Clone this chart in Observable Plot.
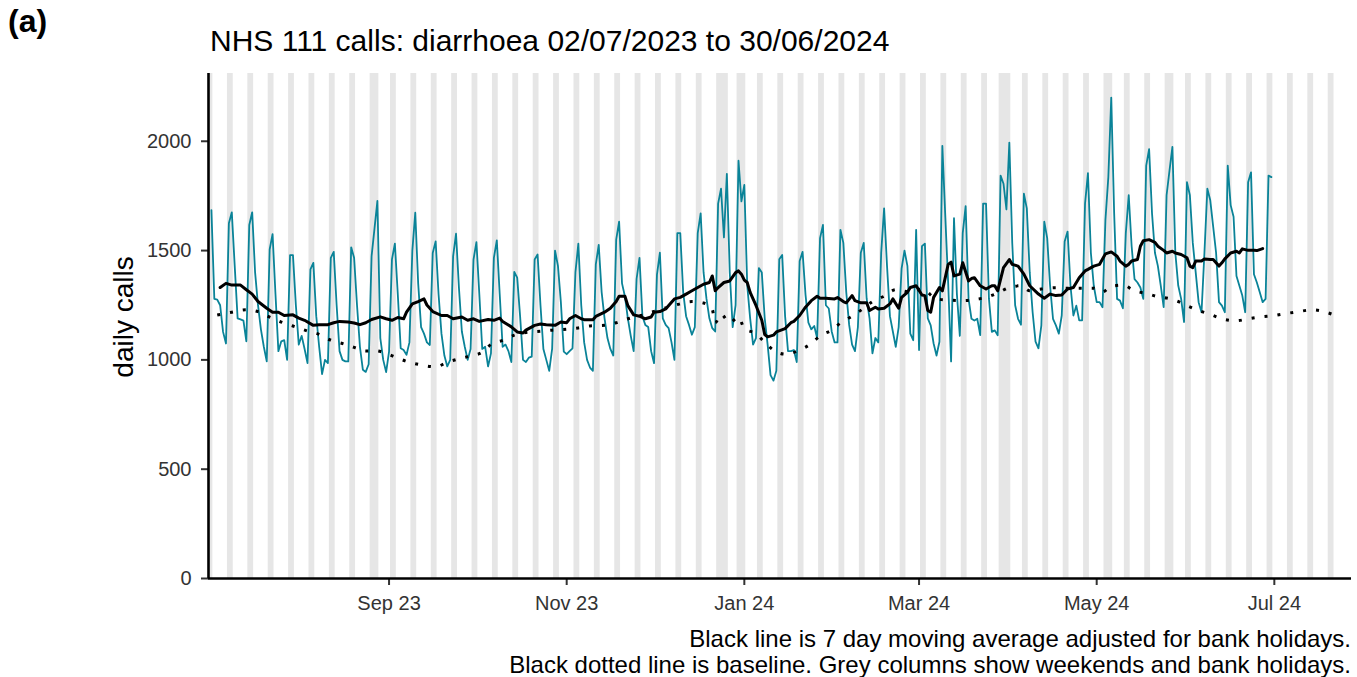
<!DOCTYPE html>
<html>
<head>
<meta charset="utf-8">
<script src="https://cdn.jsdelivr.net/npm/d3@7"></script>
<script src="https://cdn.jsdelivr.net/npm/@observablehq/plot@0.6"></script>
<style>
  html, body { margin: 0; padding: 0; background: #fff; }
  #wrap { position: relative; width: 1357px; height: 677px; overflow: hidden;
          font-family: "Liberation Sans", Arial, sans-serif; color: #000; }
  #tag { position: absolute; left: 8px; top: 3px; font-size: 32px; font-weight: bold; }
  #title { position: absolute; left: 210px; top: 24px; font-size: 30px; white-space: nowrap; }
  #chart { position: absolute; left: 0; top: 0; }
  #caption { position: absolute; right: 6px; top: 626px; font-size: 24px; line-height: 26px;
             text-align: right; white-space: nowrap; }
  #chart svg [aria-label*="tick"] path, #chart svg .tick line { stroke-width: 2px; }
</style>
</head>
<body>
<div id="wrap">
  <div id="tag">(a)</div>
  <div id="title">NHS 111 calls: diarrhoea 02/07/2023 to 30/06/2024</div>
  <div id="chart"></div>
  <div id="caption">Black line is 7 day moving average adjusted for bank holidays.<br>Black dotted line is baseline. Grey columns show weekends and bank holidays.</div>
</div>
<script>
// ---------------- data ----------------
// first day of the daily series (Sunday 2 July 2023); values are daily NHS 111 diarrhoea calls
const seriesStart = "2023-07-02";
const dailyCalls = [
  1685,
  1279, 1276, 1250, 1128, 1075, 1625, 1675,
  1430, 1190, 1185, 1180, 1085, 1617, 1675,
  1400, 1250, 1140, 1060, 993, 1505, 1575,
  1300, 1040, 1085, 1090, 1000, 1479, 1479,
  1250, 1070, 1110, 1050, 985, 1414, 1444,
  1200, 1060, 935, 1000, 985, 1467, 1494,
  1250, 1040, 1000, 993, 993, 1515, 1467,
  1250, 1060, 955, 945, 980, 1474, 1600,
  1727, 1100, 1000, 944, 1038, 1460, 1532,
  1300, 1053, 1045, 1023, 1080, 1500, 1673,
  1350, 1150, 1120, 1080, 1068, 1489, 1542,
  1300, 1120, 1020, 970, 1000, 1474, 1577,
  1330, 1130, 1060, 1000, 1050, 1459, 1539,
  1300, 1050, 1060, 970, 1030, 1467, 1547,
  1300, 1060, 1070, 1040, 990, 1402, 1376,
  1200, 1000, 990, 1010, 1015, 1459, 1482,
  1250, 1050, 1000, 950, 1050, 1500, 1430,
  1264, 1038, 1026, 1040, 1053, 1400, 1532,
  1250, 1080, 1000, 965, 950, 1437, 1526,
  1310, 1190, 1100, 1050, 1020, 1550, 1632,
  1350, 1290, 1190, 1110, 1040, 1370, 1467,
  1200, 1160, 1150, 1040, 985, 1390, 1490,
  1190, 1160, 1145, 1080, 1000, 1580, 1580,
  1310, 1200, 1160, 1115, 1150, 1580, 1670,
  1400, 1280, 1190, 1145, 1130, 1715, 1783,
  1560, 1851, 1400, 1150, 1250, 1911, 1725,
  1800, 1340, 1190, 1070, 1100, 1420, 1400,
  1190, 1070, 930, 905, 950, 1460, 1480,
  1200, 1040, 1040, 1045, 990, 1452, 1494,
  1300, 1170, 1140, 1155, 1100, 1557, 1617,
  1250, 1235, 1130, 1080, 1080, 1595, 1535,
  1310, 1160, 1070, 1040, 1150, 1490, 1535,
  1280, 1190, 1030, 1100, 1080, 1490, 1693,
  1430, 1200, 1130, 1060, 1150, 1417, 1500,
  1430, 1120, 1090, 1595, 1045, 1520, 1532,
  1190, 1158, 1075, 1020, 1083, 1979, 1660,
  1350, 993, 1648, 1300, 1110, 1580, 1703,
  1279, 1188, 1180, 1188, 1113, 1715, 1715,
  1280, 1128, 1135, 1113, 1843, 1806, 1688,
  1994, 1535, 1250, 1188, 1161, 1760, 1693,
  1400, 1218, 1083, 1053, 1158, 1632, 1557,
  1339, 1188, 1158, 1120, 1203, 1542, 1587,
  1339, 1203, 1248, 1181, 1181, 1715, 1854,
  1490, 1339, 1264, 1264, 1241, 1640, 1836,
  2200, 1670, 1279, 1271, 1236, 1580, 1753,
  1520, 1369, 1354, 1331, 1279, 1889, 1964,
  1670, 1490, 1430, 1340, 1241, 1753, 1866,
  1974, 1490, 1340, 1279, 1173, 1813, 1753,
  1535, 1400, 1264, 1218, 1490, 1783, 1730,
  1610, 1490, 1264, 1248, 1218, 1889, 1708,
  1655, 1384, 1339, 1294, 1218, 1813, 1858,
  1392, 1354, 1309, 1264, 1279, 1843, 1836
];

// 7 day moving average (adjusted for bank holidays): [days after seriesStart, calls]
const movingAverage = [
  [3,1331],[5,1350],[7,1342],[10,1342],[12,1321],[14,1301],[16,1267],[19,1236],[21,1218],[23,1218],
  [25,1203],[28,1206],[30,1191],[32,1181],[35,1158],[37,1161],[40,1161],[42,1170],[44,1176],[47,1173],
  [49,1169],[51,1161],[53,1170],[55,1185],[58,1197],[60,1188],[62,1181],[64,1194],[66,1188],[67,1218],
  [69,1256],[71,1267],[73,1279],[74,1251],[76,1221],[79,1203],[81,1203],[83,1188],[86,1196],[88,1181],
  [90,1188],[92,1176],[95,1185],[97,1181],[99,1191],[100,1176],[103,1151],[105,1128],[107,1123],[108,1136],
  [111,1158],[113,1164],[115,1161],[118,1158],[120,1173],[122,1170],[123,1188],[125,1203],[127,1188],[128,1184],
  [131,1184],[132,1199],[135,1218],[137,1236],[139,1267],[140,1291],[142,1291],[143,1248],[145,1206],[147,1200],
  [149,1188],[151,1196],[152,1218],[154,1221],[156,1233],[158,1264],[159,1279],[161,1286],[163,1301],[165,1316],
  [167,1331],[169,1346],[171,1354],[172,1384],[173,1316],[174,1331],[176,1354],[178,1361],[180,1399],[181,1407],
  [182,1392],[183,1365],[184,1354],[185,1309],[187,1249],[189,1181],[190,1116],[191,1105],[193,1113],[194,1128],
  [197,1143],[199,1170],[200,1176],[202,1203],[204,1241],[206,1271],[208,1291],[209,1282],[211,1282],[214,1279],
  [215,1285],[217,1267],[218,1261],[220,1294],[221,1271],[223,1261],[225,1261],[226,1226],[228,1241],[229,1233],
  [231,1236],[233,1256],[234,1279],[236,1236],[237,1286],[239,1309],[240,1331],[242,1339],[244,1297],[245,1294],
  [246,1226],[247,1218],[248,1286],[250,1331],[251,1316],[253,1437],[254,1447],[255,1384],[257,1392],[258,1444],
  [260,1361],[261,1372],[262,1376],[264,1339],[266,1324],[268,1339],[269,1339],[270,1316],[272,1422],[274,1459],
  [275,1437],[277,1429],[279,1392],[281,1339],[284,1301],[286,1282],[288,1301],[290,1294],[292,1297],[294,1324],
  [296,1331],[298,1376],[300,1407],[301,1414],[303,1429],[305,1437],[307,1485],[309,1494],[311,1474],[312,1452],
  [314,1429],[315,1437],[316,1452],[318,1459],[319,1520],[320,1545],[322,1550],[324,1538],[325,1520],[327,1501],
  [328,1489],[330,1497],[331,1489],[333,1482],[335,1467],[336,1429],[337,1422],[338,1452],[340,1452],[341,1462],
  [343,1459],[344,1459],[346,1429],[347,1444],[348,1462],[350,1489],[352,1497],[353,1489],[354,1508],[356,1501],
  [358,1501],[359,1500],[361,1509]
];

// baseline: [days after seriesStart, calls]
const baseline = [
  [2,1205],[7,1218],[12,1229],[16,1221],[20,1196],[24,1173],[28,1155],[33,1132],[37,1117],[41,1090],
  [45,1075],[49,1057],[53,1041],[56,1042],[60,1030],[64,1008],[68,989],[72,977],[77,968],[81,989],
  [85,1005],[89,1018],[93,1035],[96,1071],[100,1089],[104,1113],[108,1125],[113,1131],[117,1136],[122,1140],
  [126,1146],[130,1155],[135,1158],[139,1170],[143,1188],[148,1205],[152,1222],[156,1238],[160,1253],[165,1267],
  [169,1260],[172,1230],[173,1170],[175,1209],[178,1170],[181,1196],[183,1143],[187,1120],[190,1080],[193,1045],
  [197,1026],[202,1045],[206,1075],[209,1110],[213,1136],[216,1169],[220,1200],[224,1236],[227,1267],[231,1291],
  [235,1321],[240,1310],[244,1324],[249,1279],[253,1274],[257,1271],[262,1276],[266,1286],[270,1306],[274,1331],
  [278,1339],[281,1316],[285,1324],[290,1330],[294,1328],[298,1328],[303,1328],[306,1311],[309,1336],[313,1342],
  [317,1316],[321,1304],[325,1289],[328,1283],[332,1267],[335,1248],[339,1226],[343,1208],[347,1188],[352,1179],
  [356,1188],[360,1196],[365,1203],[369,1212],[373,1220],[378,1229],[382,1221],[386,1203]
];

const bankHolidays = ["2023-08-28","2023-12-25","2023-12-26","2024-01-01","2024-03-29","2024-04-01","2024-05-06","2024-05-27"];
const greyFrom = "2023-07-01", greyTo = "2024-07-21";

const xTickDates = ["2023-09-01","2023-11-01","2024-01-01","2024-03-01","2024-05-01","2024-07-01"];
const xTickLabels = ["Sep 23","Nov 23","Jan 24","Mar 24","May 24","Jul 24"];
const yTicks = [0, 500, 1000, 1500, 2000];
const yLabel = "daily calls";

// ---------------- build ----------------
const DAY = 864e5;
const t0 = Date.parse(seriesStart);
const onDay = d => new Date(t0 + d * DAY);
const xDomain = [new Date(Date.parse("2023-07-01")), new Date(Date.parse("2024-07-27T12:00:00Z"))];
const yMax = 2310;

const callsData = dailyCalls.map((v, i) => ({date: onDay(i), value: v}));
const maData = movingAverage.map(([d, v]) => ({date: onDay(d), value: v}));
const baseData = baseline.map(([d, v]) => ({date: onDay(d), value: v}));

const greySet = new Set(bankHolidays.map(s => Date.parse(s)));
for (let t = Date.parse(greyFrom); t <= Date.parse(greyTo); t += DAY) {
  const wd = new Date(t).getUTCDay();
  if (wd === 0 || wd === 6) greySet.add(t);
}
const greyDays = [...greySet].sort((a, b) => a - b);
const runs = [];
for (const t of greyDays) {
  const last = runs[runs.length - 1];
  if (last && t - last.end === DAY) last.end = t;
  else runs.push({start: t, end: t});
}
const greyRuns = runs.map(r => ({
  x1: new Date(Math.max(r.start - DAY / 2, +xDomain[0])),
  x2: new Date(r.end + DAY / 2)
}));

const tickLabelOf = new Map(xTickDates.map((s, i) => [Date.parse(s), xTickLabels[i]]));

const chart = Plot.plot({
  width: 1357,
  height: 620,
  marginLeft: 208,
  marginRight: 6,
  marginTop: 73,
  marginBottom: 42,
  style: {fontFamily: "'Liberation Sans', Arial, sans-serif", fontSize: "20px", color: "#333", background: "transparent", overflow: "visible"},
  x: {type: "utc", domain: xDomain, ticks: xTickDates.map(s => new Date(Date.parse(s))),
      tickFormat: d => tickLabelOf.get(+d), tickSize: 7, tickPadding: 10, label: null},
  y: {domain: [0, yMax], ticks: yTicks, tickFormat: d => String(d), tickSize: 7, tickPadding: 10, label: null},
  marks: [
    Plot.rect(greyRuns, {x1: "x1", x2: "x2", y1: 0, y2: yMax, fill: "#e6e6e6"}),
    Plot.line(callsData, {x: "date", y: "value", stroke: "#0a8398", strokeWidth: 1.8}),
    Plot.line(baseData, {x: "date", y: "value", stroke: "#000", strokeWidth: 3, strokeDasharray: "3,10",
                         strokeLinecap: "butt", curve: "monotone-x"}),
    Plot.line(maData, {x: "date", y: "value", stroke: "#000", strokeWidth: 3}),
    Plot.ruleX([xDomain[0]], {stroke: "#000", strokeWidth: 2.6}),
    Plot.ruleY([0], {stroke: "#000", strokeWidth: 2.6}),
    Plot.text([yLabel], {text: d => d, frameAnchor: "left", textAnchor: "middle", rotate: -90,
                         dx: -84, dy: -9, fontSize: 28, fill: "#000"})
  ]
});
document.getElementById("chart").appendChild(chart);
</script>
</body>
</html>
